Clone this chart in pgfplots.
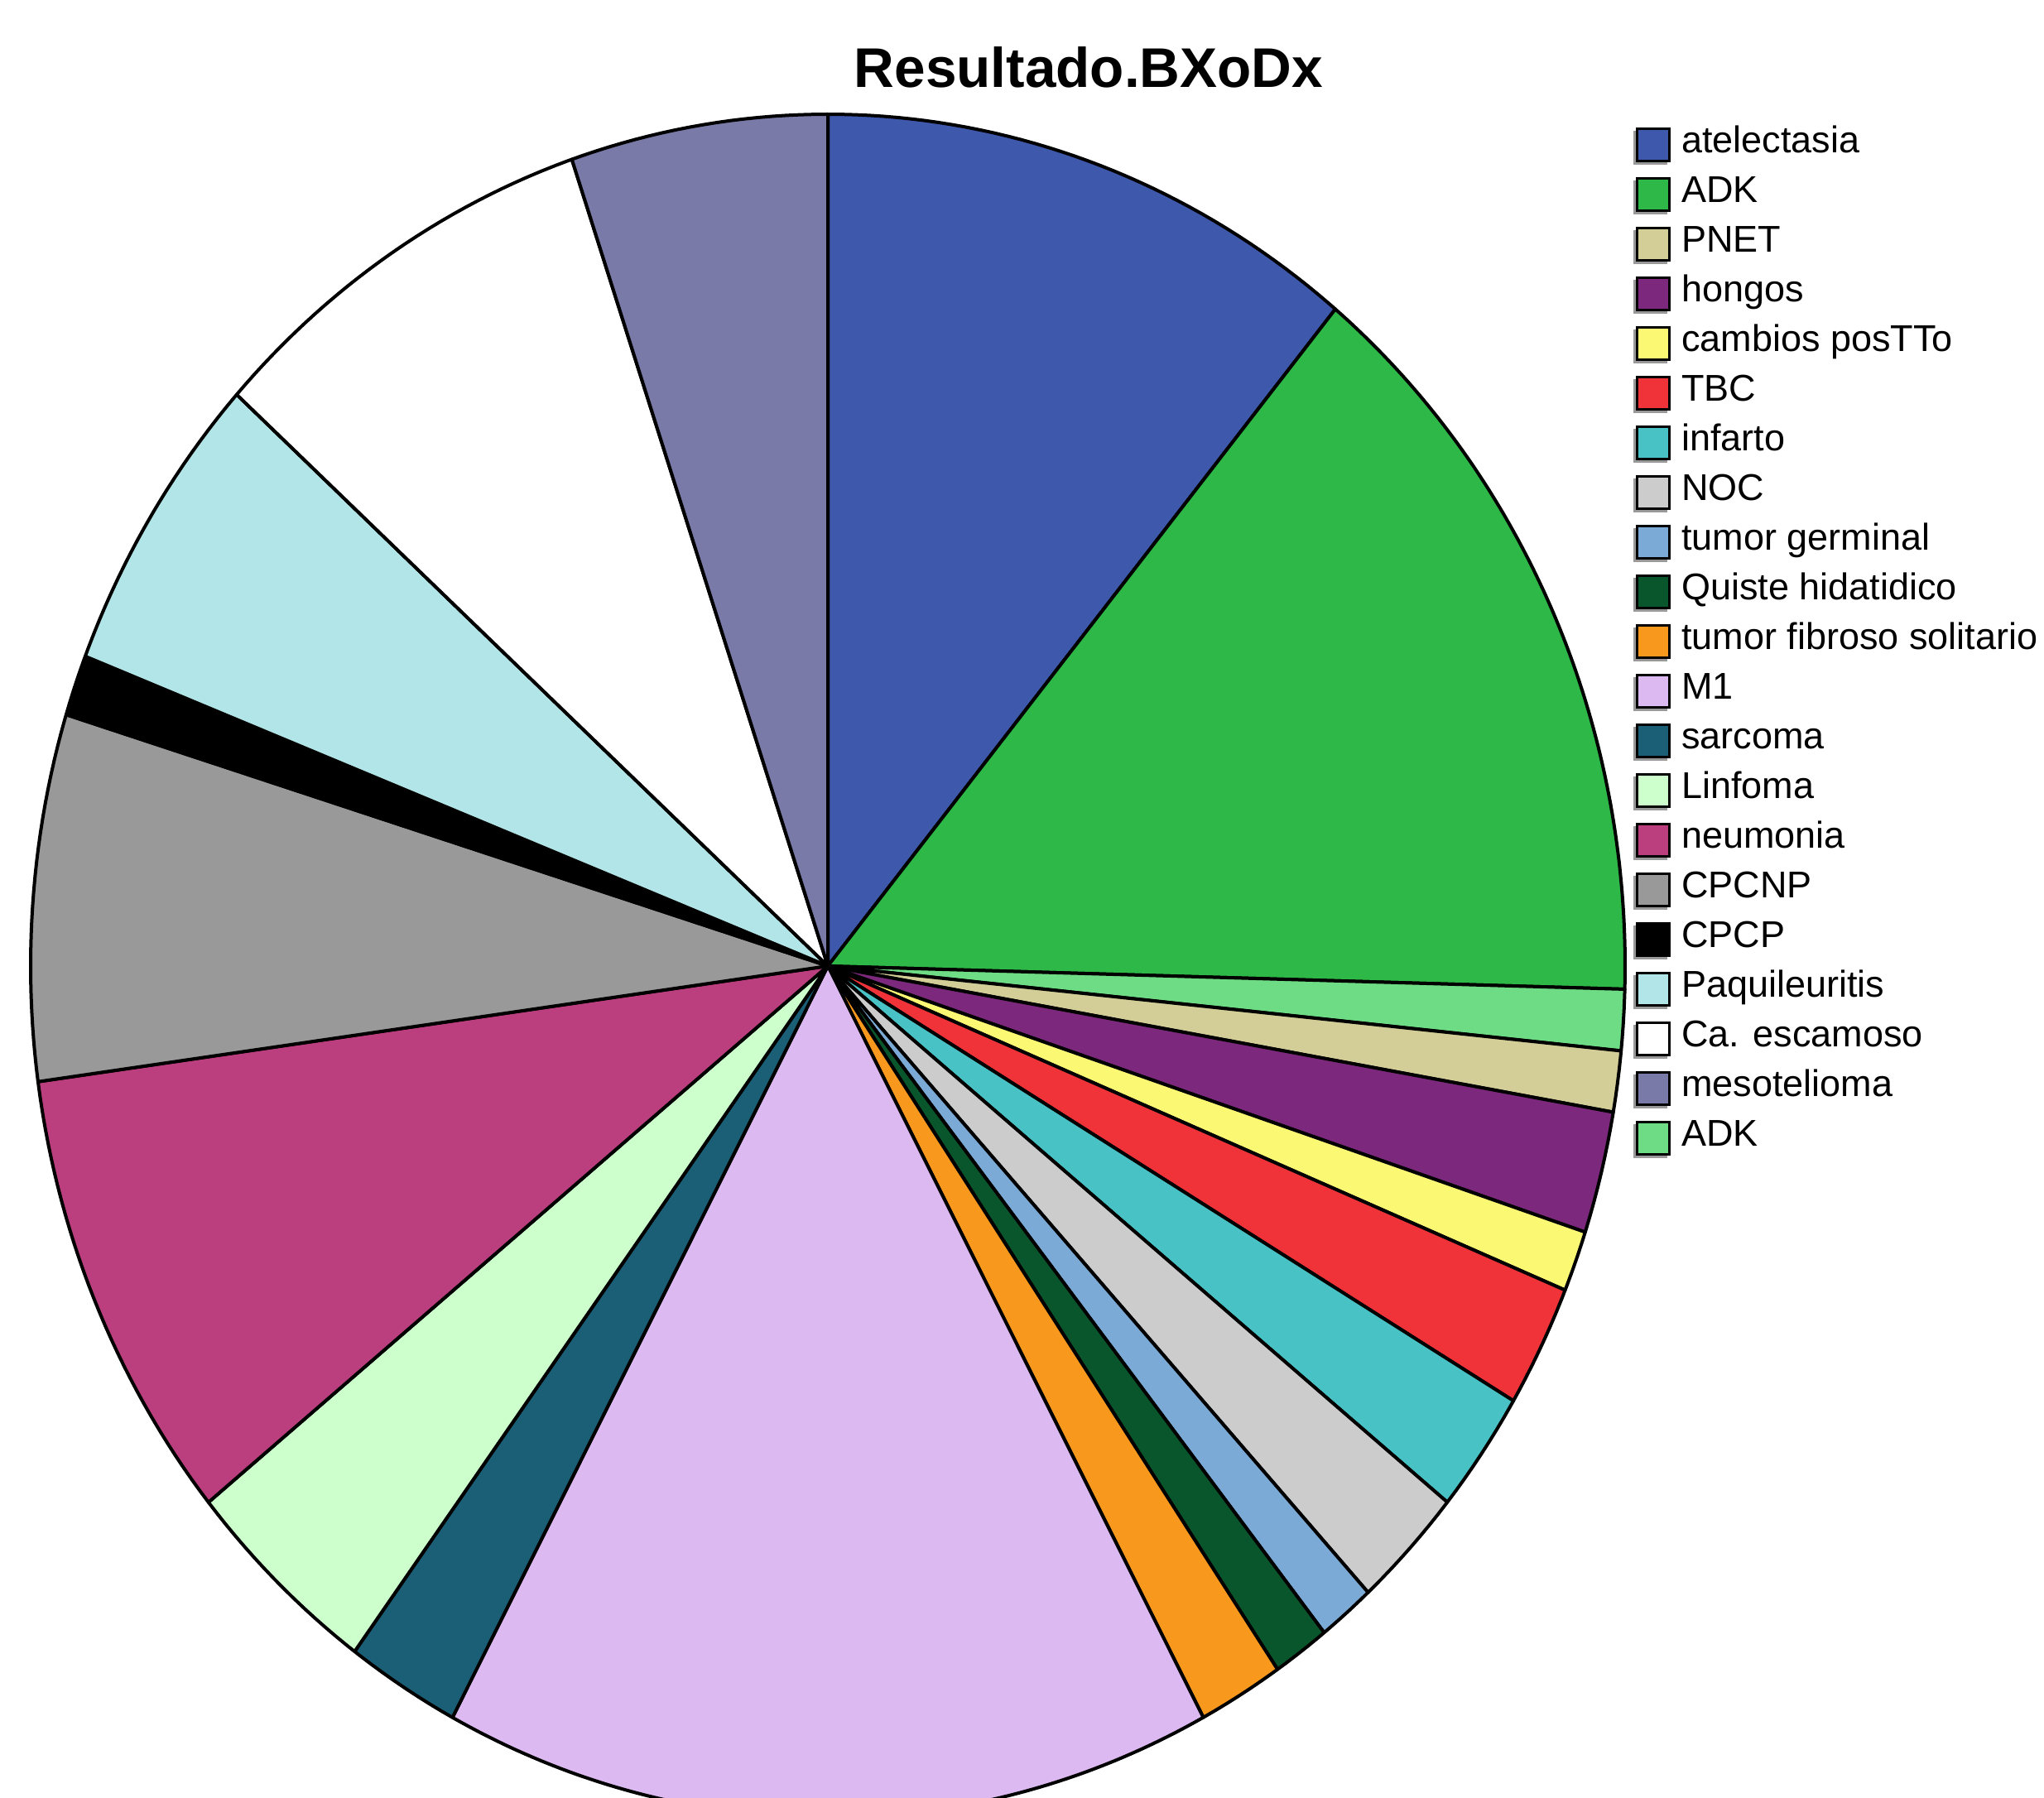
\documentclass[border=0pt]{standalone}
\usepackage{pgfplots}
\pgfplotsset{compat=1.18}
\usepackage{pgfplotstable}
\usepackage{fontspec}
\setmainfont{Liberation Sans}

\definecolor{cAtel}{HTML}{3E58AC}
\definecolor{cADK}{HTML}{2EB848}
\definecolor{cADKb}{HTML}{6EDC84}
\definecolor{cPNET}{HTML}{D3CE97}
\definecolor{cHong}{HTML}{7C287D}
\definecolor{cCamb}{HTML}{FBF873}
\definecolor{cTBC}{HTML}{EF3338}
\definecolor{cInf}{HTML}{48C2C5}
\definecolor{cNOC}{HTML}{CCCCCC}
\definecolor{cGerm}{HTML}{7AAAD5}
\definecolor{cQuis}{HTML}{0A562C}
\definecolor{cFib}{HTML}{F8981D}
\definecolor{cMone}{HTML}{DDB9F1}
\definecolor{cSarc}{HTML}{1A5F76}
\definecolor{cLinf}{HTML}{CCFFCC}
\definecolor{cNeum}{HTML}{BB3F7F}
\definecolor{cCPCNP}{HTML}{999999}
\definecolor{cCPCP}{HTML}{000000}
\definecolor{cPaq}{HTML}{B2E5E7}
\definecolor{cCa}{HTML}{FFFFFF}
\definecolor{cMeso}{HTML}{7A7AA8}

% slices in drawing order (clockwise from 12 o'clock)
\pgfplotstableread{
name value col
atelectasia 19 cAtel
ADK 25 cADK
ADKb 2 cADKb
PNET 2 cPNET
hongos 4 cHong
cambios 2 cCamb
TBC 4 cTBC
infarto 4 cInf
NOC 4 cNOC
germinal 2 cGerm
quiste 2 cQuis
fibroso 3 cFib
M1 27 cMone
sarcoma 4 cSarc
Linfoma 7 cLinf
neumonia 15 cNeum
CPCNP 12 cCPCNP
CPCP 2 cCPCP
Paquileuritis 10 cPaq
escamoso 14 cCa
mesotelioma 9 cMeso
}\piedata

\newcommand{\legsq}[1]{\addlegendimage{legend image code/.code={%
  \fill[gray!80] (-0.7pt,-4.6pt) rectangle (7.1pt,3.2pt);
  \draw[fill=#1,draw=black,line width=0.6pt] (0pt,-3.9pt) rectangle (7.8pt,3.9pt);}}}

\begin{document}
\begin{tikzpicture}
\begin{axis}[
  scale only axis,
  width=493.8pt, height=434.4pt,
  xmin=-1.0384, xmax=1.5254, ymin=-0.9767, ymax=1.1341,
  hide axis, clip=true,
  legend style={at={(axis cs:0.994,1.004)}, anchor=north west, draw=none, fill=none,
    font=\fontsize{9}{9}\selectfont, row sep=0pt, column sep=2.6pt,
    nodes={inner sep=0pt, text height=8pt, text depth=4pt}},
  legend cell align=left,
]
\pgfplotstablegetrowsof{\piedata}
\pgfmathtruncatemacro{\nrows}{\pgfplotsretval-1}
\def\cumsum{0}
\pgfplotsforeachungrouped \i in {0,...,\nrows} {
  \pgfplotstablegetelem{\i}{value}\of\piedata \let\sliceV=\pgfplotsretval
  \pgfplotstablegetelem{\i}{col}\of\piedata \let\sliceC=\pgfplotsretval
  \pgfmathsetmacro{\sliceA}{90-\cumsum/173*360}
  \pgfmathsetmacro{\sliceB}{90-(\cumsum+\sliceV)/173*360}
  \edef\cmd{\noexpand\addplot[draw=black, fill=\sliceC, line width=0.8pt, line join=round, domain=\sliceB:\sliceA, samples=80, forget plot] ({cos(x)},{sin(x)}) -- (axis cs:0,0) -- cycle;}
  \cmd
  \pgfmathsetmacro{\cumsum}{\cumsum+\sliceV}
  \xdef\cumsum{\cumsum}
}
\legsq{cAtel}\addlegendentry{atelectasia}
\legsq{cADK}\addlegendentry{ADK}
\legsq{cPNET}\addlegendentry{PNET}
\legsq{cHong}\addlegendentry{hongos}
\legsq{cCamb}\addlegendentry{cambios posTTo}
\legsq{cTBC}\addlegendentry{TBC}
\legsq{cInf}\addlegendentry{infarto}
\legsq{cNOC}\addlegendentry{NOC}
\legsq{cGerm}\addlegendentry{tumor germinal}
\legsq{cQuis}\addlegendentry{Quiste hidatidico}
\legsq{cFib}\addlegendentry{tumor fibroso solitario}
\legsq{cMone}\addlegendentry{M1}
\legsq{cSarc}\addlegendentry{sarcoma}
\legsq{cLinf}\addlegendentry{Linfoma}
\legsq{cNeum}\addlegendentry{neumonia}
\legsq{cCPCNP}\addlegendentry{CPCNP}
\legsq{cCPCP}\addlegendentry{CPCP}
\legsq{cPaq}\addlegendentry{Paquileuritis}
\legsq{cCa}\addlegendentry{Ca. escamoso}
\legsq{cMeso}\addlegendentry{mesotelioma}
\legsq{cADKb}\addlegendentry{ADK}
\node[anchor=base, font=\bfseries\fontsize{13.5}{13.5}\selectfont, inner sep=0pt] at (axis cs:0.327,1.032) {Resultado.BXoDx};
\end{axis}
\pgfresetboundingbox
\path[use as bounding box] (0,0) rectangle (493.8pt,434.4pt);
\end{tikzpicture}
\end{document}
